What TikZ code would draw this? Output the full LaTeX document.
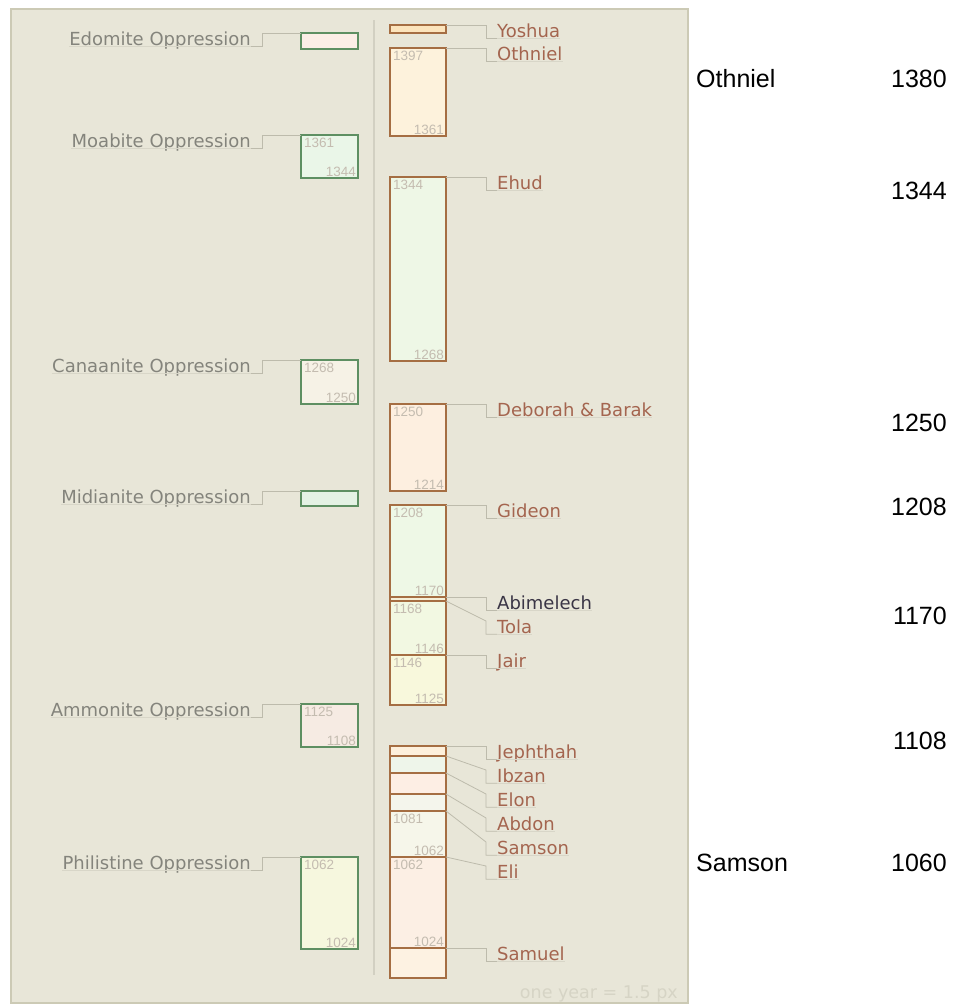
\documentclass[tikz,border=0pt]{standalone}
\usepackage{fontspec}
\setmainfont{DejaVu Sans}
\newfontfamily\labfont{DejaVu Sans}
\newfontfamily\bigfont{Liberation Sans}
\newfontfamily\yrfont{Liberation Sans}
\usetikzlibrary{calc}
\definecolor{panelbg}{HTML}{E8E6D8}
\definecolor{panelbd}{HTML}{CCCAB5}
\definecolor{vlinec}{HTML}{D2D0C2}
\definecolor{connc}{HTML}{BDBBAC}
\definecolor{ulinec}{HTML}{D8D6C8}
\definecolor{lgreen}{HTML}{5E8F62}
\definecolor{rbrown}{HTML}{A56E43}
\definecolor{ltext}{HTML}{84847C}
\definecolor{rtext}{HTML}{A4654F}
\definecolor{abimc}{HTML}{3A3545}
\definecolor{yrc}{HTML}{C4BCB0}
\definecolor{onec}{HTML}{D6D4C5}
% fills
\definecolor{fEdo}{HTML}{FBEEE6}
\definecolor{fMoa}{HTML}{EAF6E8}
\definecolor{fCan}{HTML}{F6F2E6}
\definecolor{fMid}{HTML}{E4F2E4}
\definecolor{fAmm}{HTML}{F6EBE3}
\definecolor{fPhi}{HTML}{F6F7DE}
\definecolor{fYos}{HTML}{FCE4BC}
\definecolor{fOth}{HTML}{FDF2DC}
\definecolor{fEhu}{HTML}{EEF7E6}
\definecolor{fDeb}{HTML}{FDEFE0}
\definecolor{fGid}{HTML}{EEF8E6}
\definecolor{fAbi}{HTML}{F5EFD8}
\definecolor{fTol}{HTML}{F2F8E2}
\definecolor{fJai}{HTML}{F8F8DC}
\definecolor{fJep}{HTML}{FDF0DC}
\definecolor{fIbz}{HTML}{EEF5EA}
\definecolor{fElo}{HTML}{FDEEE4}
\definecolor{fAbd}{HTML}{F4F5EC}
\definecolor{fSam}{HTML}{F6F6EA}
\definecolor{fEli}{HTML}{FCEFE4}
\definecolor{fSml}{HTML}{FDF2E2}
\tikzset{
  panel/.style={fill=panelbg, draw=panelbd, line width=1.5pt},
  vline/.style={draw=vlinec, line width=1.5pt},
  conn/.style={draw=connc, line width=0.8pt},
  uline/.style={draw=ulinec, line width=0.8pt},
  lbox/.style={draw=lgreen, line width=1.3pt, inner sep=0pt, outer sep=0pt, anchor=north west, minimum width=57},
  rbox/.style={draw=rbrown, line width=1.3pt, inner sep=0pt, outer sep=0pt, anchor=north west, minimum width=56},
  llab/.style={font=\labfont\fontsize{18}{21}\selectfont, text=ltext, anchor=base east, inner sep=0pt, text depth=1pt},
  rlab/.style={font=\labfont\fontsize{18}{21}\selectfont, anchor=base west, inner sep=0pt, text depth=1pt},
  yr/.style={font=\yrfont\fontsize{13.5}{15}\selectfont, text=yrc, inner sep=0pt},
  big/.style={font=\bigfont\fontsize{25}{28}\selectfont, text=black, inner sep=0pt},
  onel/.style={font=\labfont\fontsize{17.5}{20}\selectfont, text=onec, inner sep=0pt, anchor=base east}
}
\newcommand\LItem[5]{%
  \node[lbox, fill=#4, minimum height={#3-#2}] (#1B) at (301,#2) {};
  \node[llab] (#1L) at (251,#2+12) {#5};
  \draw[conn] (#1B.north west) -- (262,#2) |- (#1L.south east);
  \draw[uline] (#1L.south west) -- (#1L.south east);
}
\newcommand\RItem[7]{%
  \node[rbox, fill=#4, minimum height={#3-#2}] (#1B) at (390,#2) {};
  \node[rlab, text=#7] (#1L) at (497,#5+12) {#6};
  \draw[conn] (#1B.north east) -- (486,#5) |- (#1L.south west);
  \draw[uline] (#1L.south west) -- (#1L.south east);
}
\newcommand\Yr[3]{%
  \node[yr, anchor=north west] (#1Ya) at ($(#1B.north west)+(3,3)$) {#2};
  \node[yr, anchor=south east] (#1Yb) at ($(#1B.south east)+(-2,-1)$) {#3};
}
\begin{document}
\begin{tikzpicture}[x=1pt,y=-1pt]
\useasboundingbox (0,0) rectangle (971,1007);
\fill[white] (0,0) rectangle (971,1007);
\draw[panel] (10.75,8.75) rectangle (688,1003);
\coordinate (vtop) at (374,20);
\coordinate (vbot) at (374,975);
\draw[vline] (vtop) -- (vbot);

% left: oppressions
\LItem{edo}{33}{49}{fEdo}{Edomite Oppression}
\LItem{moa}{135}{178}{fMoa}{Moabite Oppression}
\LItem{can}{360}{404}{fCan}{Canaanite Oppression}
\LItem{mid}{491}{506}{fMid}{Midianite Oppression}
\LItem{amm}{704}{747}{fAmm}{Ammonite Oppression}
\LItem{phi}{857}{949}{fPhi}{Philistine Oppression}
\Yr{moa}{1361}{1344}
\Yr{can}{1268}{1250}
\Yr{amm}{1125}{1108}
\Yr{phi}{1062}{1024}

% right: judges
\RItem{yos}{25}{33}{fYos}{25}{Yoshua}{rtext}
\RItem{oth}{48}{136}{fOth}{48}{Othniel}{rtext}
\RItem{ehu}{177}{361}{fEhu}{177}{Ehud}{rtext}
\RItem{deb}{404}{491}{fDeb}{404}{Deborah \& Barak}{rtext}
\RItem{gid}{505}{597}{fGid}{505}{Gideon}{rtext}
\RItem{abi}{597}{601}{fAbi}{597}{Abimelech}{abimc}
\RItem{tol}{601}{655}{fTol}{621}{Tola}{rtext}
\RItem{jai}{655}{705}{fJai}{655}{Jair}{rtext}
\RItem{jep}{746}{756}{fJep}{746}{Jephthah}{rtext}
\RItem{ibz}{756}{773}{fIbz}{770}{Ibzan}{rtext}
\RItem{elo}{773}{794}{fElo}{794}{Elon}{rtext}
\RItem{abd}{794}{811}{fAbd}{818}{Abdon}{rtext}
\RItem{sam}{811}{857}{fSam}{842}{Samson}{rtext}
\RItem{eli}{857}{948}{fEli}{866}{Eli}{rtext}
\RItem{sml}{948}{978}{fSml}{948}{Samuel}{rtext}
\Yr{oth}{1397}{1361}
\Yr{ehu}{1344}{1268}
\Yr{deb}{1250}{1214}
\Yr{gid}{1208}{1170}
\Yr{tol}{1168}{1146}
\Yr{jai}{1146}{1125}
\Yr{sam}{1081}{1062}
\Yr{eli}{1062}{1024}

\node[onel] (scale) at (678,998) {one year = 1.5 px};

% outside labels
\node[big, anchor=base west] (bOth) at (696,87) {Othniel};
\node[big, anchor=base east] (b1380) at (947,87) {1380};
\node[big, anchor=base east] (b1344) at (947,199) {1344};
\node[big, anchor=base east] (b1250) at (947,431) {1250};
\node[big, anchor=base east] (b1208) at (947,515) {1208};
\node[big, anchor=base east] (b1170) at (947,624) {1170};
\node[big, anchor=base east] (b1108) at (947,749) {1108};
\node[big, anchor=base west] (bSam) at (696,871) {Samson};
\node[big, anchor=base east] (b1060) at (947,871) {1060};
\end{tikzpicture}
\end{document}
